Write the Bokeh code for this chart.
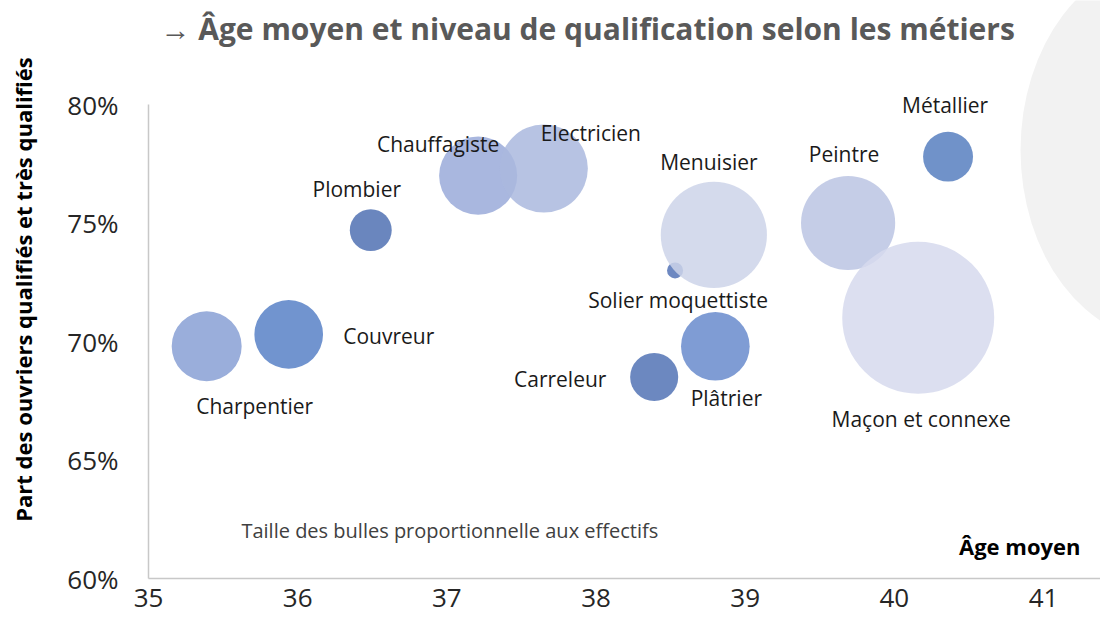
from bokeh.plotting import figure
from bokeh.models import ColumnDataSource, NumeralTickFormatter, FixedTicker, Label, Range1d
from bokeh.core.properties import value
from bokeh.embed import file_html
from bokeh.resources import INLINE
import numpy as np

# ---- data ----
metiers = ["Charpentier", "Couvreur", "Plombier", "Chauffagiste", "Electricien",
           "Solier moquettiste", "Menuisier", "Carreleur", "Plâtrier", "Peintre",
           "Métallier", "Maçon et connexe"]
age_moyen = [35.39, 35.94, 36.49, 37.21, 37.65, 38.53, 38.79, 38.39, 38.80, 39.69, 40.36, 40.16]
part_qualifies = [0.698, 0.703, 0.747, 0.770, 0.773, 0.730, 0.745, 0.685, 0.698, 0.750, 0.778, 0.710]
effectifs = [53, 51, 19, 66, 84, 2.8, 122, 25, 51, 96, 27, 250]
x_ticks = [35, 36, 37, 38, 39, 40, 41]
y_ticks = [0.60, 0.65, 0.70, 0.75, 0.80]

# ---- styles ----
visible_colors = ["#9AAEDB", "#7194CF", "#6A86BE", "#A9B7DF", "#B7C3E3", "#6D88C1",
                  "#D4DAEC", "#6C88C0", "#7F9CD4", "#C5CDE7", "#7092C9", "#DCDFF0"]
label_dx = [48, 100, -14, -40, 47, 3, -5, -94, 11, -4, -3, 3]
label_dy = [60, 2, -41, -32, -36, 30, -73, 2, 52, -69, -52, 101]
ALPHA = 0.85
MAX_DIAM = 152

def base_color(hexc):
    r, g, b = (int(hexc[i:i + 2], 16) for i in (1, 3, 5))
    f = lambda v: max(0, min(255, round((v - (1 - ALPHA) * 255) / ALPHA)))
    return "#%02X%02X%02X" % (f(r), f(g), f(b))

eff = np.array(effectifs, dtype=float)
sizes = MAX_DIAM * np.sqrt(eff / eff.max())

src = ColumnDataSource(dict(
    x=age_moyen, y=part_qualifies, name=metiers, size=sizes,
    color=[base_color(c) for c in visible_colors], dx=label_dx, dy=label_dy))

FONT = "Open Sans"

p = figure(width=1100, height=620,
           x_range=Range1d(35, 41.382), y_range=Range1d(0.60, 0.8439),
           output_backend="svg", toolbar_location=None,
           min_border_left=148, min_border_right=0, min_border_top=0, min_border_bottom=42)
p.outline_line_color = None
p.xgrid.visible = False
p.ygrid.visible = False
p.background_fill_color = "white"

# decorative grey shape at top-right
p.ellipse(x=[41.818], y=[0.7808], width=290, height=382, width_units="screen",
          height_units="screen", fill_color="#F2F2F2", line_color=None)

p.scatter(x="x", y="y", size="size", source=src, fill_color="color",
          fill_alpha=ALPHA, line_color=None)

p.text(x="x", y="y", text="name", x_offset="dx", y_offset="dy", source=src,
       text_font=value(FONT), text_font_size="21px", text_color="#1A1A1A",
       text_align="center", text_baseline="middle")

# axes
for ax in (p.xaxis[0], p.yaxis[0]):
    ax.axis_line_color = "#C8C8C8"
    ax.axis_line_width = 1.5
    ax.major_tick_line_color = None
    ax.minor_tick_line_color = None
    ax.major_label_text_font = FONT
    ax.major_label_text_font_size = "26px"
    ax.major_label_text_color = "#262626"

p.xaxis.ticker = FixedTicker(ticks=x_ticks)
p.yaxis.ticker = FixedTicker(ticks=y_ticks)
p.yaxis.formatter = NumeralTickFormatter(format="0%")
p.yaxis.bounds = (0.60, 0.80)
p.xaxis.major_label_standoff = 4
p.yaxis.major_label_standoff = 24

p.yaxis.axis_label = "Part des ouvriers qualifiés et très qualifiés"
p.yaxis.axis_label_text_font = FONT
p.yaxis.axis_label_text_font_style = "bold"
p.yaxis.axis_label_text_font_size = "22px"
p.yaxis.axis_label_text_color = "#000000"
p.yaxis.axis_label_standoff = 26

# title and annotations
p.add_layout(Label(x=35.08, y=0.8321, text="→ Âge moyen et niveau de qualification selon les métiers",
                   text_font=FONT, text_font_style="bold", text_font_size="30px",
                   text_color="#595959", text_baseline="middle", text_align="left"))
p.add_layout(Label(x=41.248, y=0.6139, text="Âge moyen", text_font=FONT,
                   text_font_style="bold", text_font_size="22px", text_color="#000000",
                   text_baseline="middle", text_align="right"))
p.add_layout(Label(x=35.623, y=0.6203, text="Taille des bulles proportionnelle aux effectifs",
                   text_font=FONT, text_font_size="20px", text_color="#404040",
                   text_baseline="middle", text_align="left"))

open("out.html", "w").write(file_html(p, INLINE))
